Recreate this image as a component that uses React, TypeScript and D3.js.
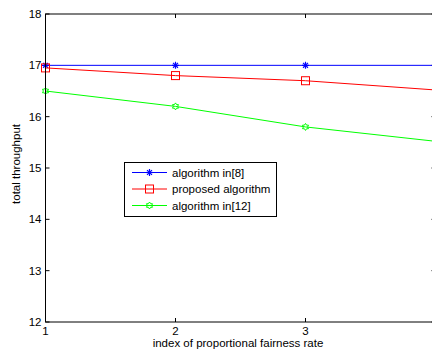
import React from "react";
import * as d3 from "d3";

const xValues = [1, 2, 3, 5];
const xTicks = [1, 2, 3];
const yTicks = [12, 13, 14, 15, 16, 17, 18];
const seriesNames = ["algorithm in[8]", "proposed algorithm", "algorithm in[12]"];
const algo8 = [17, 17, 17, 17];
const proposed = [16.95, 16.8, 16.7, 16.34];
const algo12 = [16.5, 16.2, 15.8, 15.24];
const seriesColors = ["#0000ff", "#ff0000", "#00ff00"];
const seriesMarkers = ["star", "square", "hexagram"];

const W = 432;
const H = 355;
const x = d3.scaleLinear().domain([1, 4]).range([45.5, 435.5]);
const y = d3.scaleLinear().domain([12, 18]).range([322, 14]);

function Marker({ type, cx, cy, color }: { type: string; cx: number; cy: number; color: string }) {
  if (type === "square") {
    return <rect x={cx - 4} y={cy - 4} width={8} height={8} fill="none" stroke={color} strokeWidth={1} />;
  }
  if (type === "star") {
    const r = 3.5;
    return (
      <g stroke={color} strokeWidth={1.2}>
        <line x1={cx - r} y1={cy} x2={cx + r} y2={cy} />
        <line x1={cx} y1={cy - r} x2={cx} y2={cy + r} />
        <line x1={cx - r * 0.7} y1={cy - r * 0.7} x2={cx + r * 0.7} y2={cy + r * 0.7} />
        <line x1={cx - r * 0.7} y1={cy + r * 0.7} x2={cx + r * 0.7} y2={cy - r * 0.7} />
      </g>
    );
  }
  const r = 3.5;
  const pts: [number, number][] = [];
  for (let i = 0; i < 12; i++) {
    const a = (Math.PI / 6) * i - Math.PI / 2;
    const rr = i % 2 === 0 ? r : r * 0.6;
    pts.push([cx + rr * Math.cos(a), cy + rr * Math.sin(a)]);
  }
  return <polygon points={pts.map((p) => p.join(",")).join(" ")} fill="none" stroke={color} strokeWidth={1} />;
}

export default function App() {
  const series = [algo8, proposed, algo12];
  const line = d3
    .line<number>()
    .x((_, i) => x(xValues[i]))
    .y((d) => y(d));
  const font = "'Liberation Sans', Arial, sans-serif";
  const fs = 11.5;
  const left = x.range()[0];
  const right = x.range()[1];
  const top = y.range()[1];
  const bottom = y.range()[0];
  const legendRows = [172.5, 189, 205.5];
  return (
    <div style={{ position: "fixed", left: 0, top: 0 }}>
      <svg width={W} height={H} style={{ display: "block", background: "#fff" }} fontFamily={font}>
        <rect x={0} y={0} width={W} height={H} fill="#fff" />
        <defs>
          <clipPath id="plot">
            <rect x={left - 6} y={top - 6} width={right - left + 6} height={bottom - top + 12} />
          </clipPath>
        </defs>
        {xTicks.map((t) => (
          <g key={"xt" + t} stroke="#000" strokeWidth={1}>
            <line x1={x(t)} x2={x(t)} y1={bottom} y2={bottom - 4} />
            <line x1={x(t)} x2={x(t)} y1={top} y2={top + 4} />
          </g>
        ))}
        {yTicks.map((t) => (
          <g key={"yt" + t} stroke="#000" strokeWidth={1}>
            <line x1={left} x2={left + 4} y1={y(t)} y2={y(t)} />
            <line x1={right} x2={right - 4} y1={y(t)} y2={y(t)} />
          </g>
        ))}
        <g clipPath="url(#plot)">
          {series.map((s, si) => (
            <g key={si}>
              <path d={line(s) || ""} fill="none" stroke={seriesColors[si]} strokeWidth={1} />
              {s.map((v, i) => (
                <Marker key={i} type={seriesMarkers[si]} cx={x(xValues[i])} cy={y(v)} color={seriesColors[si]} />
              ))}
            </g>
          ))}
        </g>
        <rect x={left} y={top} width={right - left} height={bottom - top} fill="none" stroke="#000" strokeWidth={1} />
        {xTicks.map((t) => (
          <text key={"xl" + t} x={x(t)} y={bottom + 13} fontSize={fs} textAnchor="middle" fill="#000">
            {t}
          </text>
        ))}
        {yTicks.map((t) => (
          <text key={"yl" + t} x={left - 4} y={y(t) + 4} fontSize={fs} textAnchor="end" fill="#000">
            {t}
          </text>
        ))}
        <text x={238} y={347} fontSize={fs} textAnchor="middle" fill="#000">
          index of proportional fairness rate
        </text>
        <text transform={`translate(20,164) rotate(-90)`} fontSize={fs} textAnchor="middle" fill="#000">
          total throughput
        </text>
        <rect x={124.5} y={162.5} width={152} height={54} fill="#fff" stroke="#000" strokeWidth={1} />
        {seriesNames.map((n, i) => (
          <g key={n}>
            <line x1={132} x2={167} y1={legendRows[i]} y2={legendRows[i]} stroke={seriesColors[i]} strokeWidth={1} />
            <Marker type={seriesMarkers[i]} cx={149.5} cy={legendRows[i]} color={seriesColors[i]} />
            <text x={172} y={legendRows[i] + 4} fontSize={fs} fill="#000">
              {n}
            </text>
          </g>
        ))}
      </svg>
    </div>
  );
}
